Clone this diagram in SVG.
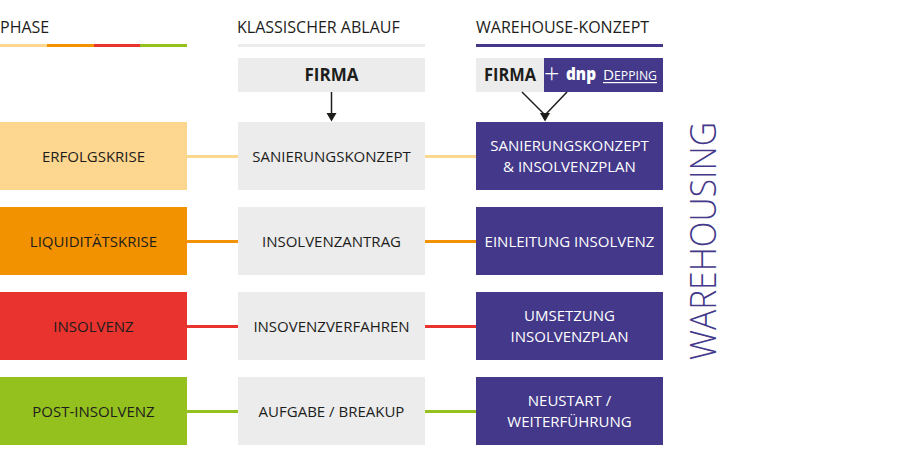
<svg xmlns="http://www.w3.org/2000/svg" width="900" height="470" viewBox="0 0 900 470">
<defs>
<style>
text{font-family:"Open Sans","Noto Sans","Liberation Sans",sans-serif;fill:#1d1d1b}
.hd{font-size:16px}
.bx{font-size:15px;text-anchor:middle}
.wt{fill:#ffffff}
.fb{font-size:17px;font-weight:700}
.gray{fill:#ececec}
.pur{fill:#433889}
.ar{stroke:#1d1d1b;stroke-width:1.5;fill:none}
.hdp{fill:#1d1d1b}
</style>
</defs>
<rect width="900" height="470" fill="#ffffff"/>

<g id="headers">
<text class="hd" x="0" y="33">PHASE</text>
<text class="hd" x="237" y="33">KLASSISCHER ABLAUF</text>
<text class="hd" x="476" y="33">WAREHOUSE-KONZEPT</text>
<rect x="0" y="44" width="47" height="3" fill="#fdd68f"/>
<rect x="47" y="44" width="47" height="3" fill="#f39200"/>
<rect x="94" y="44" width="46" height="3" fill="#e8332f"/>
<rect x="140" y="44" width="47" height="3" fill="#95c11f"/>
<rect x="238" y="44" width="187" height="3" class="gray"/>
<rect x="476" y="44" width="187" height="3" class="pur"/>
</g>

<g id="firma-klassisch">
<rect x="238" y="58" width="187" height="34" class="gray"/>
<text class="fb" x="331.5" y="81" text-anchor="middle">FIRMA</text>
</g>

<g id="firma-depping">
<rect x="476" y="58" width="68" height="34" class="gray"/>
<rect x="544" y="58" width="119" height="34" class="pur"/>
<text class="fb" x="484" y="81" textLength="52" lengthAdjust="spacingAndGlyphs">FIRMA</text>
<text class="wt" x="544" y="83" style="font-size:27px;font-weight:300">+</text>
<text class="wt" x="566" y="80" textLength="30" lengthAdjust="spacingAndGlyphs" style="font-size:17px;font-weight:800">dnp</text>
<text class="wt" x="603" y="80" textLength="54" lengthAdjust="spacingAndGlyphs" style="font-size:15px">D<tspan style="font-size:12px">EPPING</tspan></text>
<rect x="603" y="82" width="54" height="1.2" fill="#ffffff"/>
</g>

<g id="phase-1"><rect x="0" y="122" width="187" height="68" fill="#fdd68f"/><text class="bx" x="93.5" y="161.5">ERFOLGSKRISE</text></g>
<g id="phase-2"><rect x="0" y="207" width="187" height="68" fill="#f39200"/><text class="bx" x="93.5" y="246.5">LIQUIDITÄTSKRISE</text></g>
<g id="phase-3"><rect x="0" y="292" width="187" height="68" fill="#e8332f"/><text class="bx" x="93.5" y="331.5">INSOLVENZ</text></g>
<g id="phase-4"><rect x="0" y="377" width="187" height="68" fill="#95c11f"/><text class="bx" x="93.5" y="416.5">POST-INSOLVENZ</text></g>

<g id="klassisch-1"><rect x="238" y="122" width="187" height="68" class="gray"/><text class="bx" x="331.5" y="161.5">SANIERUNGSKONZEPT</text></g>
<g id="klassisch-2"><rect x="238" y="207" width="187" height="68" class="gray"/><text class="bx" x="331.5" y="246.5">INSOLVENZANTRAG</text></g>
<g id="klassisch-3"><rect x="238" y="292" width="187" height="68" class="gray"/><text class="bx" x="331.5" y="331.5">INSOVENZVERFAHREN</text></g>
<g id="klassisch-4"><rect x="238" y="377" width="187" height="68" class="gray"/><text class="bx" x="331.5" y="416.5">AUFGABE / BREAKUP</text></g>

<g id="warehouse-1"><rect x="476" y="122" width="187" height="68" class="pur"/><text class="bx wt" x="569.5" y="151">SANIERUNGSKONZEPT</text><text class="bx wt" x="569.5" y="171.5">&amp; INSOLVENZPLAN</text></g>
<g id="warehouse-2"><rect x="476" y="207" width="187" height="68" class="pur"/><text class="bx wt" x="569.5" y="246.5">EINLEITUNG INSOLVENZ</text></g>
<g id="warehouse-3"><rect x="476" y="292" width="187" height="68" class="pur"/><text class="bx wt" x="569.5" y="321">UMSETZUNG</text><text class="bx wt" x="569.5" y="341.5">INSOLVENZPLAN</text></g>
<g id="warehouse-4"><rect x="476" y="377" width="187" height="68" class="pur"/><text class="bx wt" x="569.5" y="406">NEUSTART /</text><text class="bx wt" x="569.5" y="426.5">WEITERFÜHRUNG</text></g>

<g id="warehousing-label">
<text x="0" y="0" transform="translate(716,241) rotate(-90)" text-anchor="middle" textLength="238" lengthAdjust="spacingAndGlyphs" style="font-size:37px;font-weight:300;fill:#433889">WAREHOUSING</text>
</g>

<g id="connectors">
<line x1="187" y1="156.5" x2="238" y2="156.5" stroke="#fdd68f" stroke-width="3"/>
<line x1="425" y1="156.5" x2="476" y2="156.5" stroke="#fdd68f" stroke-width="3"/>
<line x1="187" y1="241.5" x2="238" y2="241.5" stroke="#f39200" stroke-width="3"/>
<line x1="425" y1="241.5" x2="476" y2="241.5" stroke="#f39200" stroke-width="3"/>
<line x1="187" y1="326.5" x2="238" y2="326.5" stroke="#e8332f" stroke-width="3"/>
<line x1="425" y1="326.5" x2="476" y2="326.5" stroke="#e8332f" stroke-width="3"/>
<line x1="187" y1="411.5" x2="238" y2="411.5" stroke="#95c11f" stroke-width="3"/>
<line x1="425" y1="411.5" x2="476" y2="411.5" stroke="#95c11f" stroke-width="3"/>
<line class="ar" x1="331.5" y1="92" x2="331.5" y2="114"/>
<polygon class="hdp" points="326.5,113 336.5,113 331.5,121.5"/>
<line class="ar" x1="522" y1="92" x2="545" y2="115"/>
<line class="ar" x1="567" y1="92" x2="545" y2="115"/>
<polygon class="hdp" points="540,113 550,113 545,121.5"/>
</g>
</svg>
